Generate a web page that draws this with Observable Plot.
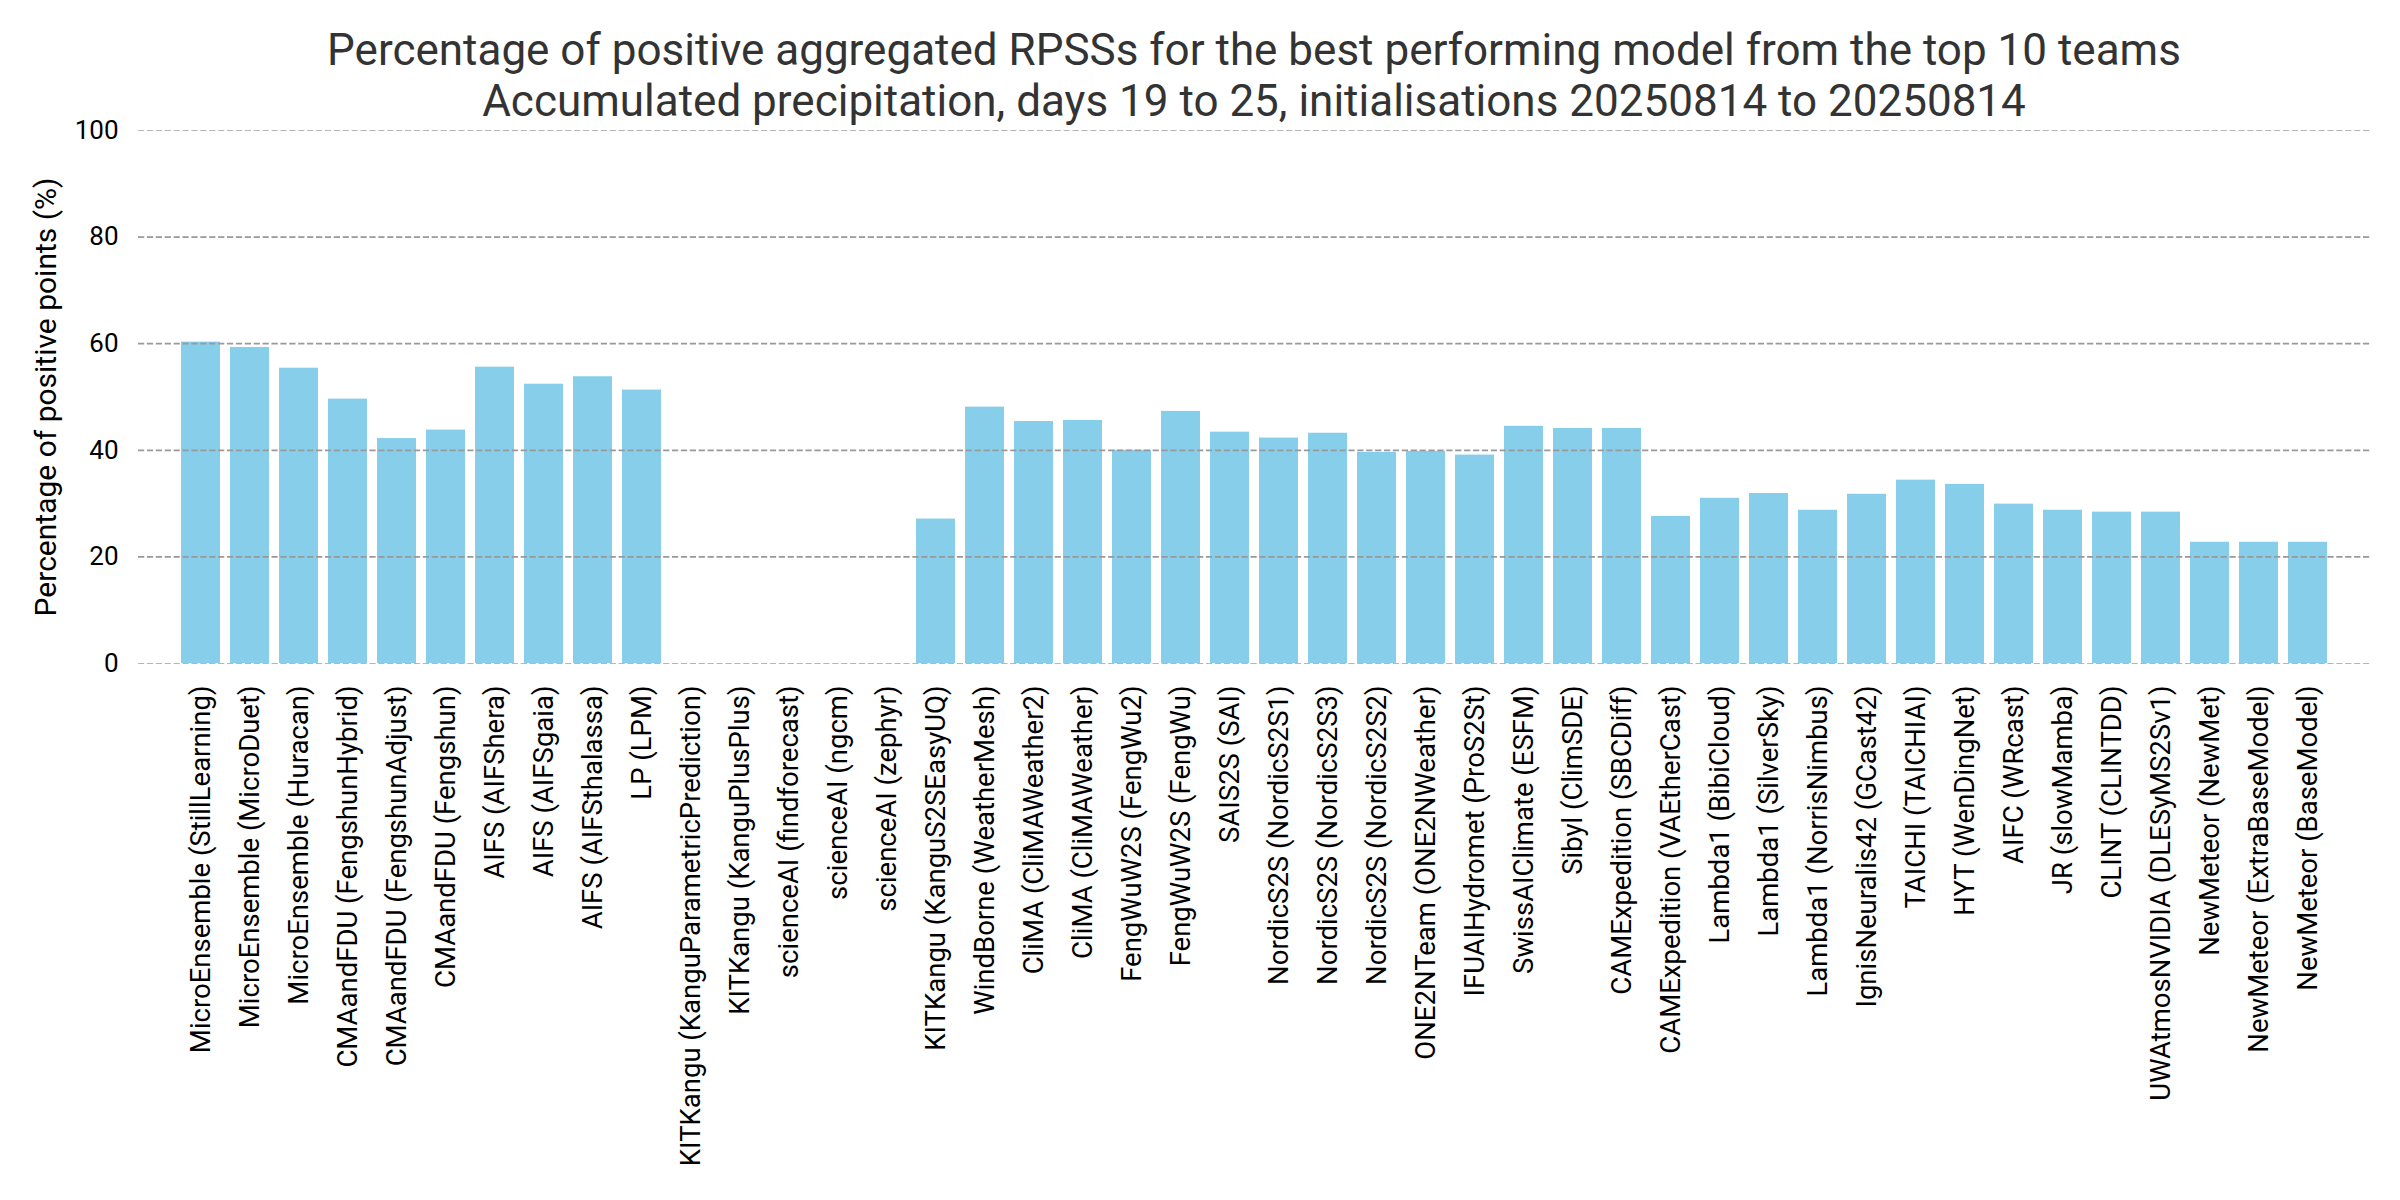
<!DOCTYPE html>
<html><head><meta charset="utf-8">
<script src="https://cdn.jsdelivr.net/npm/d3@7"></script>
<script src="https://cdn.jsdelivr.net/npm/@observablehq/plot@0.6"></script>
<style>
html,body{margin:0;padding:0;background:#fff;}
body{width:2400px;height:1200px;overflow:hidden;}
#title{position:relative;height:100px;width:2400px;font-family:Roboto,sans-serif;color:#333;}
.t{position:absolute;left:138px;width:2232px;text-align:center;font-size:44px;line-height:1;white-space:nowrap;}
#chart svg{display:block;}
</style></head><body>
<div id="title">
  <div class="t" style="top:28px">Percentage of positive aggregated RPSSs for the best performing model from the top 10 teams</div>
  <div class="t" style="top:79px">Accumulated precipitation, days 19 to 25, initialisations 20250814 to 20250814</div>
</div>
<div id="chart"></div>
<script>
const models = [
  "MicroEnsemble (StillLearning)","MicroEnsemble (MicroDuet)","MicroEnsemble (Huracan)",
  "CMAandFDU (FengshunHybrid)","CMAandFDU (FengshunAdjust)","CMAandFDU (Fengshun)",
  "AIFS (AIFShera)","AIFS (AIFSgaia)","AIFS (AIFSthalassa)","LP (LPM)",
  "KITKangu (KanguParametricPrediction)","KITKangu (KanguPlusPlus)",
  "scienceAI (findforecast)","scienceAI (ngcm)","scienceAI (zephyr)",
  "KITKangu (KanguS2SEasyUQ)","WindBorne (WeatherMesh)","CliMA (CliMAWeather2)","CliMA (CliMAWeather)",
  "FengWuW2S (FengWu2)","FengWuW2S (FengWu)","SAIS2S (SAI)",
  "NordicS2S (NordicS2S1)","NordicS2S (NordicS2S3)","NordicS2S (NordicS2S2)",
  "ONE2NTeam (ONE2NWeather)","IFUAIHydromet (ProS2St)","SwissAIClimate (ESFM)","Sibyl (ClimSDE)",
  "CAMExpedition (SBCDiff)","CAMExpedition (VAEtherCast)",
  "Lambda1 (BibiCloud)","Lambda1 (SilverSky)","Lambda1 (NorrisNimbus)",
  "IgnisNeuralis42 (GCast42)","TAICHI (TAICHIAI)","HYT (WenDingNet)","AIFC (WRcast)",
  "JR (slowMamba)","CLINT (CLINTDD)","UWAtmosNVIDIA (DLESyMS2Sv1)",
  "NewMeteor (NewMet)","NewMeteor (ExtraBaseModel)","NewMeteor (BaseModel)"
];
const values = [
  60.3, 59.3, 55.4,
  49.6, 42.2, 43.8,
  55.6, 52.4, 53.8, 51.3,
  null, null,
  null, null, null,
  27.1, 48.1, 45.4, 45.6,
  40.0, 47.3, 43.4,
  42.3, 43.2, 39.6,
  39.8, 39.1, 44.5, 44.1,
  44.1, 27.6,
  31.0, 31.9, 28.75,
  31.75, 34.4, 33.6, 29.9,
  28.75, 28.4, 28.4,
  22.75, 22.75, 22.75
];
const yTicks = [0, 20, 40, 60, 80, 100];
const innerGrid = [20, 40, 60, 80];
const edgeGrid = [0, 100];

const data = models.map((m, i) => ({model: m, value: values[i]}));

const chart = Plot.plot({
  width: 2400,
  height: 1100,
  marginLeft: 138,
  marginRight: 30,
  marginTop: 30,
  marginBottom: 537,
  style: {fontFamily: "Roboto, sans-serif", fontSize: "26px", color: "#000", background: "#fff"},
  x: {domain: models, paddingInner: 0.2, paddingOuter: 0.875, align: 0.5},
  y: {domain: [0, 100]},
  marks: [
    Plot.barY(data.filter(d => d.value != null), {x: "model", y: "value", fill: "#87CEEB"}),
    Plot.gridY(innerGrid, {stroke: "#999", strokeOpacity: 1, strokeWidth: 1.7, strokeDasharray: "6.2,2.7"}),
    Plot.gridY(edgeGrid, {stroke: "#999", strokeOpacity: 0.8, strokeWidth: 0.9, strokeDasharray: "6.2,2.7"}),
    Plot.axisY(yTicks, {tickSize: 0, tickPadding: 20, fontSize: 26, label: "Percentage of positive points (%)",
      labelAnchor: "center", labelArrow: "none", labelOffset: 104}),
    Plot.axisX({tickRotate: -90, tickSize: 0, tickPadding: 22, fontSize: 27.5, label: null})
  ]
});
chart.querySelectorAll('g[aria-label="y-axis label"]').forEach(e => e.setAttribute("font-size", "30"));
document.getElementById("chart").appendChild(chart);
</script>
</body></html>
